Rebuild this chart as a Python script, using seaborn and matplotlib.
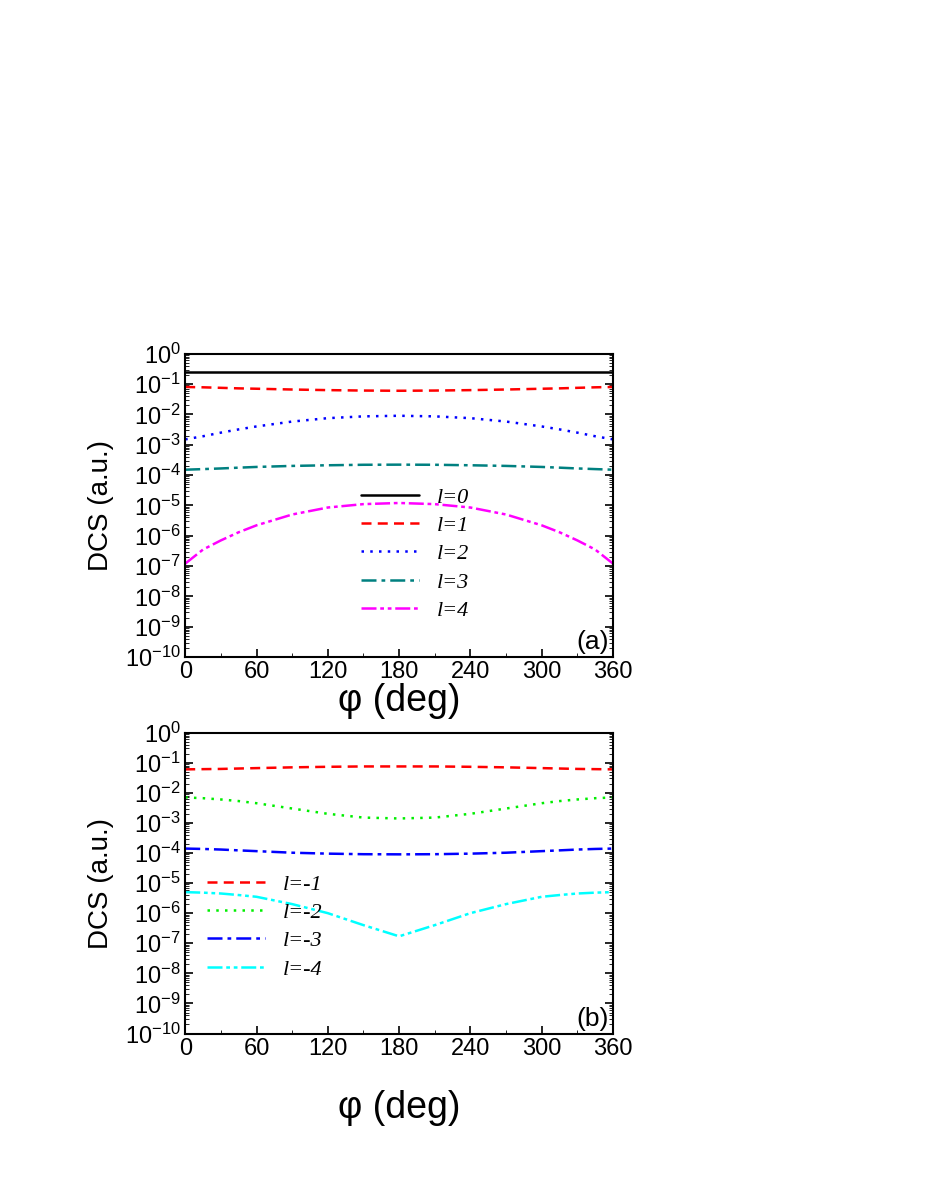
import numpy as np
import pandas as pd
import matplotlib
matplotlib.use("Agg")
import matplotlib.pyplot as plt
import seaborn as sns
from matplotlib.ticker import LogLocator, MultipleLocator, NullFormatter

# angles (deg) and DCS values
phi = [0, 15, 30, 45, 60, 90, 120, 150, 180, 210, 240, 270, 300, 315, 330, 345, 360]

l0 = [0.25] * 17
l1 = [0.08, 0.078, 0.075, 0.072, 0.07, 0.066, 0.063, 0.061, 0.06, 0.061, 0.063, 0.066, 0.07, 0.072, 0.075, 0.078, 0.08]
l2 = [1.5e-3, 1.9e-3, 2.5e-3, 3.2e-3, 4e-3, 5.8e-3, 7.5e-3, 8.6e-3, 9e-3, 8.6e-3, 7.5e-3, 5.8e-3, 4e-3, 3.2e-3, 2.5e-3, 1.9e-3, 1.5e-3]
l3 = [1.5e-4, 1.57e-4, 1.65e-4, 1.75e-4, 1.85e-4, 2.0e-4, 2.1e-4, 2.18e-4, 2.2e-4, 2.18e-4, 2.1e-4, 2.0e-4, 1.85e-4, 1.75e-4, 1.65e-4, 1.57e-4, 1.5e-4]
l4 = [1.2e-7, 3.5e-7, 7e-7, 1.3e-6, 2.2e-6, 5e-6, 8.5e-6, 1.1e-5, 1.2e-5, 1.1e-5, 8.5e-6, 5e-6, 2.2e-6, 1.3e-6, 7e-7, 3.5e-7, 1.2e-7]

lm1 = [0.06, 0.061, 0.062, 0.064, 0.066, 0.07, 0.073, 0.075, 0.075, 0.075, 0.073, 0.07, 0.066, 0.064, 0.062, 0.061, 0.06]
lm2 = [7e-3, 6.6e-3, 6e-3, 5.3e-3, 4.5e-3, 3e-3, 2e-3, 1.5e-3, 1.4e-3, 1.5e-3, 2e-3, 3e-3, 4.5e-3, 5.3e-3, 6e-3, 6.6e-3, 7e-3]
lm3 = [1.4e-4, 1.36e-4, 1.3e-4, 1.22e-4, 1.15e-4, 1.02e-4, 9.5e-5, 9.1e-5, 9e-5, 9.1e-5, 9.5e-5, 1.02e-4, 1.15e-4, 1.22e-4, 1.3e-4, 1.36e-4, 1.4e-4]
lm4 = [5e-6, 4.8e-6, 4.5e-6, 4e-6, 3.5e-6, 2e-6, 1e-6, 4e-7, 1.7e-7, 4e-7, 1e-6, 2e-6, 3.5e-6, 4e-6, 4.5e-6, 4.8e-6, 5e-6]

sns.set_style("ticks")
plt.rcParams["font.family"] = "Liberation Sans"
plt.rcParams["text.color"] = "black"
plt.rcParams["axes.labelcolor"] = "black"
plt.rcParams["xtick.color"] = "black"
plt.rcParams["ytick.color"] = "black"
plt.rcParams["axes.edgecolor"] = "black"

fig = plt.figure(figsize=(9.26, 11.99), dpi=100)
ax_a = fig.add_axes([0.200, 0.452, 0.462, 0.253])
ax_b = fig.add_axes([0.200, 0.138, 0.462, 0.251])

top = [("0", l0, "black", "-"), ("1", l1, "red", (0, (4, 2.5))),
       ("2", l2, "blue", (0, (1, 2.5))), ("3", l3, "#008080", (0, (6, 2, 1.5, 2))),
       ("4", l4, "magenta", (0, (6, 1.5, 1.5, 1.5, 1.5, 1.5)))]
bot = [("-1", lm1, "red", (0, (4, 2.5))), ("-2", lm2, "#00ee00", (0, (1, 2.5))),
       ("-3", lm3, "blue", (0, (6, 2, 1.5, 2))), ("-4", lm4, "cyan", (0, (6, 1.5, 1.5, 1.5, 1.5, 1.5)))]

def draw(ax, series, tag, legend_pos):
    for name, vals, c, ls in series:
        df = pd.DataFrame({"phi": phi, "dcs": vals})
        sns.lineplot(data=df, x="phi", y="dcs", ax=ax, color=c, linestyle=ls, lw=1.8,
                     label=f"l={name}")
    ax.set_yscale("log")
    ax.set_ylim(1e-10, 1)
    ax.set_xlim(0, 360)
    ax.xaxis.set_major_locator(MultipleLocator(60))
    ax.xaxis.set_minor_locator(MultipleLocator(30))
    ax.yaxis.set_major_locator(LogLocator(base=10, numticks=20))
    ax.yaxis.set_minor_locator(LogLocator(base=10, subs=np.arange(2, 10), numticks=20))
    ax.yaxis.set_minor_formatter(NullFormatter())
    ax.tick_params(which="both", direction="in", right=True, top=False, labelsize=17, pad=3)
    ax.tick_params(which="major", length=6, width=1.2)
    ax.tick_params(which="minor", length=3)
    for s in ax.spines.values():
        s.set_linewidth(1.5)
    ax.set_ylabel("DCS (a.u.)", fontsize=20, labelpad=8)
    ax.text(0.99, 0.01, tag, transform=ax.transAxes, ha="right", va="bottom", fontsize=19)
    ax.legend(loc=legend_pos, frameon=False, handlelength=2.6, labelspacing=0.35,
              prop={"style": "italic", "family": "Liberation Serif", "size": 16})

draw(ax_a, top, "(a)", (0.39, 0.09))
draw(ax_b, bot, "(b)", (0.03, 0.15))
ax_a.set_xlabel("φ (deg)", fontsize=27, labelpad=0)
ax_b.set_xlabel("φ (deg)", fontsize=27, labelpad=22)

fig.savefig("out.png", dpi=100)
